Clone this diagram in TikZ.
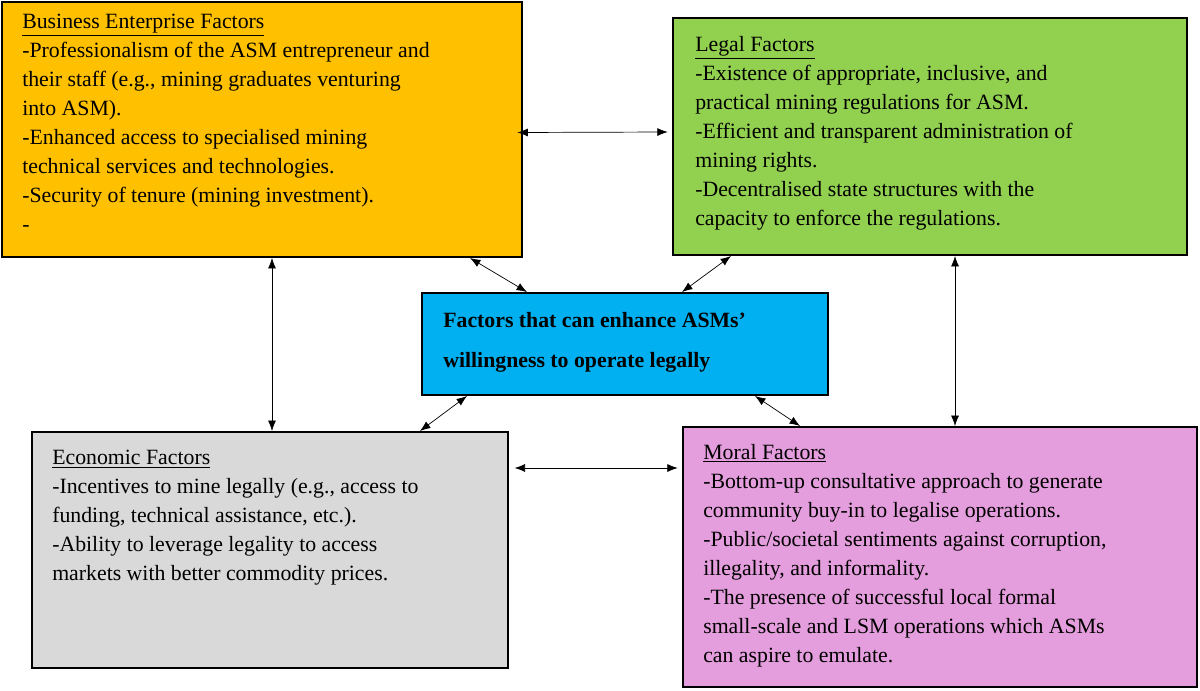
\documentclass[tikz,border=0pt]{standalone}
\usepackage{fontspec}
\setmainfont{Liberation Serif}
\usetikzlibrary{arrows.meta}
\definecolor{bizorange}{HTML}{FFC000}
\definecolor{legalgreen}{HTML}{92D050}
\definecolor{centerblue}{HTML}{00B0F0}
\definecolor{econgray}{HTML}{D9D9D9}
\definecolor{moralpink}{HTML}{E59EDD}
\tikzset{
  box/.style={draw=black, line width=1.4pt, inner sep=0pt},
  txt/.style={anchor=north west, inner sep=0pt, align=left, font=\fontsize{15.5}{20.6}\selectfont},
  link/.style={{Latex[length=2.6mm,width=2mm]}-{Latex[length=2.6mm,width=2mm]}, line width=0.5pt}
}
\begin{document}
\begin{tikzpicture}[x=0.025cm, y=-0.025cm]
	\useasboundingbox (0,0) rectangle (1200,690);
	% boxes
	\node [box, fill=bizorange, minimum width=13cm, minimum height=6.375cm] (biz) at (262,129.5) {};
	\node [box, fill=legalgreen, minimum width=12.85cm, minimum height=5.925cm] (legal) at (930,136.5) {};
	\node [box, fill=centerblue, minimum width=10.15cm, minimum height=2.55cm] (center) at (625,344) {};
	\node [box, fill=econgray, minimum width=11.9cm, minimum height=5.9cm] (econ) at (270,550) {};
	\node [box, fill=moralpink, minimum width=12.85cm, minimum height=6.5cm] (moral) at (940,557) {};
	% texts
	\node [txt] (bizt) at (22,14) {\underline{Business Enterprise Factors}\\
		-Professionalism of the ASM entrepreneur and\\their staff (e.g., mining graduates venturing\\into ASM).\\
		-Enhanced access to specialised mining\\technical services and technologies.\\
		-Security of tenure (mining investment).\\-};
	\node [txt] (legalt) at (695,36) {\underline{Legal Factors}\\
		-Existence of appropriate, inclusive, and\\practical mining regulations for ASM.\\
		-Efficient and transparent administration of\\mining rights.\\
		-Decentralised state structures with the\\capacity to enforce the regulations.};
	\node [txt, font=\fontsize{15.5}{28.5}\selectfont\bfseries] (centert) at (443,312) {Factors that can enhance ASMs’\\willingness to operate legally};
	\node [txt] (econt) at (52,450) {\underline{Economic Factors}\\
		-Incentives to mine legally (e.g., access to\\funding, technical assistance, etc.).\\
		-Ability to leverage legality to access\\markets with better commodity prices.};
	\node [txt] (moralt) at (703,444) {\underline{Moral Factors}\\
		-Bottom-up consultative approach to generate\\community buy-in to legalise operations.\\
		-Public/societal sentiments against corruption,\\illegality, and informality.\\
		-The presence of successful local formal\\small-scale and LSM operations which ASMs\\can aspire to emulate.};
	% links
	\draw [link] ([xshift=-4pt,yshift=-0.075cm]biz.east) -- ([xshift=-3pt]legal.west |- 0,132);
	\draw [link] (biz.south -| 272,0) -- (econ.north -| 272,0);
	\draw [link] (legal.south -| 955,0) -- (moral.north -| 955,0);
	\draw [link] ([xshift=4pt]econ.east |- 0,468) -- ([xshift=-3pt]moral.west |- 0,468);
	\draw [link] (biz.south -| 470,0) -- (center.north -| 527,0);
	\draw [link] (legal.south -| 731,0) -- (center.north -| 682,0);
	\draw [link] (econ.north -| 420,0) -- (center.south -| 467,0);
	\draw [link] (center.south -| 755,0) -- (moral.north -| 800,0);
\end{tikzpicture}
\end{document}
